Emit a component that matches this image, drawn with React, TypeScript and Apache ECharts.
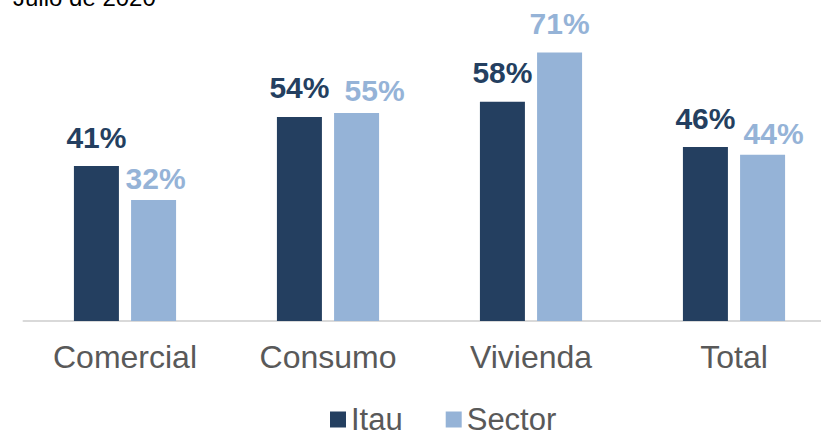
import React, { useEffect, useRef } from "react";
import * as echarts from "echarts";

const categories = ["Comercial", "Consumo", "Vivienda", "Total"];
const itauValues = [41, 54, 58, 46];
const sectorValues = [32, 55, 71, 44];
const seriesNames = ["Itau", "Sector"];
const titleText = "Julio de 2020";

// per-point label nudges for the Sector series (as in the reference)
const sectorLabelOffsets = [[2, 7], [18, 6], [0, 0], [11, 8]];

const FONT = 'Arial, "Liberation Sans", sans-serif';
const DARK = "#243F60";
const LIGHT = "#95B3D7";

export default function App() {
  const ref = useRef<HTMLDivElement>(null);
  useEffect(() => {
    if (!ref.current) return;
    const chart = echarts.init(ref.current, undefined, { renderer: "svg" });
    chart.setOption({
      animation: false,
      backgroundColor: "#ffffff",
      textStyle: { fontFamily: FONT },
      graphic: [
        {
          type: "text",
          x: 13,
          y: -3,
          style: {
            text: titleText,
            font: `24px ${FONT}`,
            fill: "#000000",
            verticalAlign: "middle",
            align: "left",
          },
        },
      ],
      legend: {
        left: 325,
        top: 399,
        itemWidth: 16,
        itemHeight: 16,
        itemGap: 43,
        icon: "rect",
        textStyle: { fontSize: 31, lineHeight: 28, color: "#595959", fontFamily: FONT },
        data: seriesNames,
      },
      grid: { left: 23.5, right: 0.5, top: 18.6, bottom: 110, containLabel: false },
      xAxis: {
        type: "category",
        data: categories,
        axisLine: { lineStyle: { color: "#D9D9D9", width: 2 } },
        axisTick: { show: false },
        axisLabel: { fontSize: 32, color: "#595959", margin: 20, fontFamily: FONT },
      },
      yAxis: {
        type: "value",
        min: 0,
        max: 80,
        show: false,
        splitLine: { show: false },
      },
      series: [
        {
          name: seriesNames[0],
          type: "bar",
          data: itauValues,
          barWidth: 45,
          barGap: "27%",
          itemStyle: { color: DARK },
          label: {
            show: true,
            position: "top",
            distance: 14,
            formatter: "{c}%",
            fontSize: 30,
            fontWeight: "bold",
            color: DARK,
            fontFamily: FONT,
          },
        },
        {
          name: seriesNames[1],
          type: "bar",
          data: sectorValues.map((v, i) => ({
            value: v,
            label: { offset: sectorLabelOffsets[i] },
          })),
          barWidth: 45,
          itemStyle: { color: LIGHT },
          label: {
            show: true,
            position: "top",
            distance: 14,
            formatter: "{c}%",
            fontSize: 30,
            fontWeight: "bold",
            color: LIGHT,
            fontFamily: FONT,
          },
        },
      ],
    });
    return () => chart.dispose();
  }, []);
  return (
    <div style={{ position: "fixed", left: 0, top: 0, width: 821, height: 431, overflow: "hidden", background: "#fff" }}>
      <div ref={ref} style={{ position: "absolute", left: 0, top: 0, width: 836, height: 431 }} />
    </div>
  );
}
